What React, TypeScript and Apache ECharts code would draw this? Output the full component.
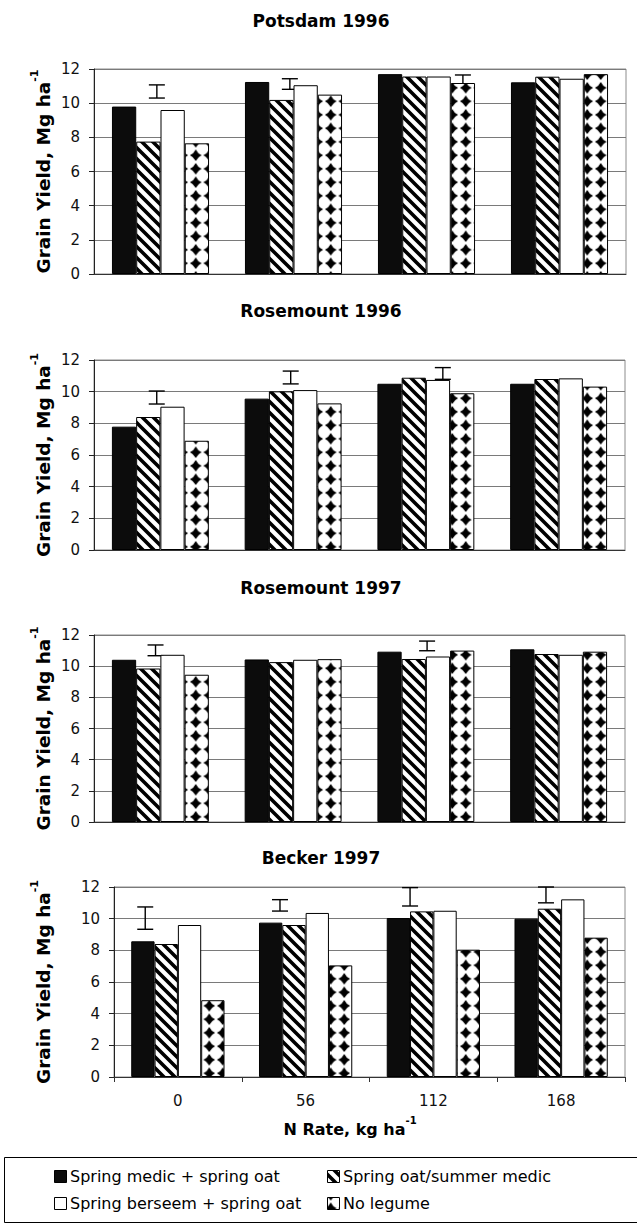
import React, { useEffect, useRef } from 'react';
import * as echarts from 'echarts';

// ---------------- data ----------------
const categories = ['0', '56', '112', '168'];
const seriesNames = [
  'Spring medic + spring oat',
  'Spring oat/summer medic',
  'Spring berseem + spring oat',
  'No legume',
];
const panelTitles = ['Potsdam 1996', 'Rosemount 1996', 'Rosemount 1997', 'Becker 1997'];
const yTicks = [0, 2, 4, 6, 8, 10, 12];

// rows: series (medic+oat, oat/summer medic, berseem+oat, no legume); cols: N rate
const potsdam1996 = [
  [9.8, 11.24, 11.7, 11.22],
  [7.75, 10.19, 11.56, 11.55],
  [9.6, 11.05, 11.56, 11.43],
  [7.65, 10.5, 11.18, 11.7],
];
const rosemount1996 = [
  [7.79, 9.56, 10.5, 10.5],
  [8.4, 10.02, 10.88, 10.8],
  [9.05, 10.1, 10.74, 10.84],
  [6.9, 9.26, 9.9, 10.32],
];
const rosemount1997 = [
  [10.41, 10.43, 10.93, 11.08],
  [9.85, 10.26, 10.46, 10.78],
  [10.73, 10.41, 10.62, 10.73],
  [9.45, 10.45, 11.0, 10.93],
];
const becker1997 = [
  [8.57, 9.75, 10.04, 10.0],
  [8.4, 9.6, 10.46, 10.63],
  [9.6, 10.36, 10.5, 11.22],
  [4.85, 7.05, 8.04, 8.8],
];

// LSD bars: [N-rate index, low, high]
const potsdamLsd = [[0, 10.3, 11.07], [1, 10.81, 11.43], [2, 10.9, 11.65]];
const rosemount96Lsd = [[0, 9.22, 10.04], [1, 10.49, 11.3], [2, 10.78, 11.52]];
const rosemount97Lsd = [[0, 10.67, 11.36], [2, 10.99, 11.61]];
const beckerLsd = [[0, 9.33, 10.74], [1, 10.48, 11.2], [2, 10.8, 11.96], [3, 11.0, 12.0]];
// horizontal placement of each LSD bar, in bar widths from the group centre
const potsdamLsdPos = [-0.15, -0.15, 1.5];
const rosemount96LsdPos = [-0.15, -0.1, 0.7];
const rosemount97LsdPos = [-0.2, 0.05];
const beckerLsdPos = [-1.4, -1.1, -1.0, -0.65];

const panelData = [potsdam1996, rosemount1996, rosemount1997, becker1997];
const panelLsd = [potsdamLsd, rosemount96Lsd, rosemount97Lsd, beckerLsd];
const panelLsdPos = [potsdamLsdPos, rosemount96LsdPos, rosemount97LsdPos, beckerLsdPos];

// ---------------- styling ----------------
const FONT = '"DejaVu Sans", "Liberation Sans", Arial, sans-serif';
const GAP = 0.27;
const grids = [
  { left: 94, top: 69, width: 532, height: 205 },
  { left: 94, top: 360, width: 531, height: 190 },
  { left: 94, top: 635, width: 531, height: 187 },
  { left: 114, top: 887, width: 511, height: 190 },
];
const titleY = [21, 311, 588, 858];

const svgUrl = (s: string) => 'data:image/svg+xml;charset=utf-8,' + encodeURIComponent(s);
const hatchTile = svgUrl(
  "<svg xmlns='http://www.w3.org/2000/svg' width='11' height='11'>" +
    "<rect width='11' height='11' fill='white'/>" +
    "<path d='M-2,-2 L13,13 M-2,9 L2,13 M9,-2 L13,2' stroke='black' stroke-width='3.6'/></svg>"
);
const diamondTile = svgUrl(
  "<svg xmlns='http://www.w3.org/2000/svg' width='13.5' height='13.5'>" +
    "<rect width='13.5' height='13.5' fill='white'/>" +
    "<path d='M6.75,0.9 Q8.6,4.9 12.6,6.75 Q8.6,8.6 6.75,12.6 Q4.9,8.6 0.9,6.75 Q4.9,4.9 6.75,0.9 Z' fill='black'/></svg>"
);
const hatchFill: any = { image: hatchTile, repeat: 'repeat', imageWidth: 11, imageHeight: 11 };
const diamondFill: any = { image: diamondTile, repeat: 'repeat', imageWidth: 13.5, imageHeight: 13.5 };
const seriesFills: any[] = ['#0c0c0c', hatchFill, '#ffffff', diamondFill];

function buildOption() {
  const grid = grids.map((g) => ({ ...g, show: true, borderColor: '#8c8c8c', borderWidth: 1, containLabel: false }));
  const xAxis = grids.map((_, i) => ({
    gridIndex: i,
    type: 'category',
    data: categories,
    axisLine: { show: true, lineStyle: { color: '#333', width: 1 } },
    axisTick: { show: i === 3, length: 5, lineStyle: { color: '#333' } },
    axisLabel: { show: i === 3, fontFamily: FONT, fontSize: 15, color: '#111', margin: 16 },
    splitLine: { show: false },
  }));
  const yAxis = grids.map((_, i) => ({
    gridIndex: i,
    type: 'value',
    min: yTicks[0],
    max: yTicks[yTicks.length - 1],
    interval: yTicks[1] - yTicks[0],
    axisLine: { show: true, lineStyle: { color: '#222', width: 1 } },
    axisTick: { show: true, length: 5, lineStyle: { color: '#222' } },
    axisLabel: { fontFamily: FONT, fontSize: 15, color: '#111', margin: 14 },
    splitLine: { show: true, lineStyle: { color: '#7a7a7a', width: 1 } },
  }));
  const series: any[] = [];
  panelData.forEach((rows, p) => {
    rows.forEach((vals, s) => {
      series.push({
        type: 'bar',
        name: seriesNames[s],
        xAxisIndex: p,
        yAxisIndex: p,
        data: vals,
        barGap: '0%',
        barCategoryGap: GAP * 100 + '%',
        z: 3,
        itemStyle: { color: seriesFills[s], borderColor: '#000', borderWidth: 1 },
        emphasis: { disabled: true },
      });
    });
    const lsd = panelLsd[p].map((d, k) => [d[0], d[1], d[2], panelLsdPos[p][k]]);
    series.push({
      type: 'custom',
      xAxisIndex: p,
      yAxisIndex: p,
      z: 2,
      data: lsd,
      encode: { x: 0, y: [1, 2] },
      renderItem: (params: any, api: any) => {
        const cat = api.value(0);
        const lo = api.value(1);
        const hi = api.value(2);
        const off = api.value(3);
        const top = api.coord([cat, hi]);
        const bot = api.coord([cat, lo]);
        const band = api.size([1, 0])[0];
        const barW = (band * (1 - GAP)) / 4;
        const x = top[0] + off * barW;
        const hw = 8;
        const st = { stroke: '#000', lineWidth: 1.4 };
        return {
          type: 'group',
          children: [
            { type: 'line', shape: { x1: x, y1: top[1], x2: x, y2: bot[1] }, style: st },
            { type: 'line', shape: { x1: x - hw, y1: top[1], x2: x + hw, y2: top[1] }, style: st },
            { type: 'line', shape: { x1: x - hw, y1: bot[1], x2: x + hw, y2: bot[1] }, style: st },
          ],
        };
      },
    });
  });

  const graphic: any[] = [];
  panelTitles.forEach((t, i) => {
    graphic.push({
      type: 'text',
      x: 321,
      y: titleY[i],
      style: {
        text: t,
        fill: '#000',
        fontFamily: FONT,
        fontSize: 17,
        fontWeight: 'bold',
        align: 'center',
        verticalAlign: 'middle',
        textAlign: 'center',
        textVerticalAlign: 'middle',
      },
    });
    const g = grids[i];
    graphic.push({
      type: 'text',
      x: 41,
      y: g.top + g.height / 2,
      rotation: Math.PI / 2,
      style: {
        text: '{m|Grain Yield, Mg ha}{s|-1}',
        fill: '#000',
        align: 'center',
        verticalAlign: 'middle',
        textAlign: 'center',
        textVerticalAlign: 'middle',
        rich: {
          m: { fontFamily: FONT, fontSize: 18.5, fontWeight: 'bold', fill: '#000', lineHeight: 24, verticalAlign: 'bottom' },
          s: { fontFamily: FONT, fontSize: 11, fontWeight: 'bold', fill: '#000', lineHeight: 24, verticalAlign: 'top', padding: [0, 0, 9, 0] },
        },
      },
    });
  });
  graphic.push({
    type: 'text',
    x: 350,
    y: 1126,
    style: {
      text: '{m|N Rate, kg ha}{s|-1}',
      fill: '#000',
      align: 'center',
      verticalAlign: 'middle',
      textAlign: 'center',
      textVerticalAlign: 'middle',
      rich: {
        m: { fontFamily: FONT, fontSize: 16, fontWeight: 'bold', fill: '#000', lineHeight: 22, verticalAlign: 'bottom' },
        s: { fontFamily: FONT, fontSize: 10, fontWeight: 'bold', fill: '#000', lineHeight: 22, verticalAlign: 'top', padding: [0, 0, 8, 0] },
      },
    },
  });
  // legend box
  graphic.push({
    type: 'rect',
    shape: { x: 4.5, y: 1157.5, width: 700, height: 65 },
    style: { fill: 'none', stroke: '#000', lineWidth: 1 },
  });
  const legPos = [
    [54, 1176],
    [327, 1176],
    [54, 1203],
    [327, 1203],
  ];
  const legOrder = [0, 1, 2, 3];
  legOrder.forEach((s, k) => {
    const [lx, ly] = legPos[k];
    graphic.push({
      type: 'rect',
      shape: { x: lx + 0.5, y: ly - 6 + 0.5, width: 12, height: 12 },
      style: { fill: seriesFills[s], stroke: '#000', lineWidth: 1 },
    });
    graphic.push({
      type: 'text',
      x: lx + 16,
      y: ly,
      style: {
        text: seriesNames[s],
        fill: '#000',
        fontFamily: FONT,
        fontSize: 16,
        align: 'left',
        verticalAlign: 'middle',
        textAlign: 'left',
        textVerticalAlign: 'middle',
      },
    });
  });

  return {
    animation: false,
    backgroundColor: '#ffffff',
    grid,
    xAxis,
    yAxis,
    series,
    graphic,
  };
}

export default function App() {
  const ref = useRef<HTMLDivElement>(null);
  useEffect(() => {
    if (!ref.current) return;
    const chart = echarts.init(ref.current, undefined, { renderer: 'svg' });
    chart.setOption(buildOption() as any);
    return () => chart.dispose();
  }, []);
  return (
    <div
      ref={ref}
      style={{ position: 'absolute', left: 0, top: 0, width: 637, height: 1225, background: '#fff' }}
    />
  );
}
